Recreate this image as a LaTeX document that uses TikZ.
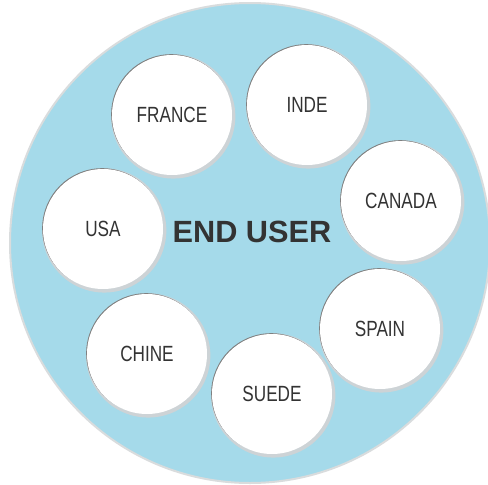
\documentclass[tikz,border=0pt]{standalone}
\usepackage{fontspec}
\setmainfont{Liberation Sans}
\newfontfamily\narrowfont[FakeStretch=0.78]{Liberation Sans}
\usetikzlibrary{shadows}
\definecolor{bigblue}{HTML}{A5DAEA}
\definecolor{rimgray}{HTML}{D9DCDD}
\definecolor{smallrim}{HTML}{CDD3D6}
\definecolor{txtgray}{HTML}{333333}
\tikzset{
  country/.style={circle, minimum size=120pt, inner sep=0pt, fill=white,
    drop shadow={shadow xshift=1.2pt, shadow yshift=-1.4pt, shadow scale=1.035, fill=smallrim, opacity=1},
    drop shadow={shadow xshift=-0.8pt, shadow yshift=0.8pt, fill=black!50, opacity=1},
    font=\narrowfont\fontsize{22}{24}\selectfont, text=txtgray},
  hub/.style={font=\bfseries\fontsize{30.7}{32}\selectfont, text=txtgray, inner sep=0pt}
}
\begin{document}
\begin{tikzpicture}[x=1pt,y=-1pt]
  \useasboundingbox (0,0) rectangle (488,485);
  \fill[white] (0,0) rectangle (488,485);
  \begin{scope}
    \clip (0,0) rectangle (488,485);
    \node[circle, minimum size=480pt, inner sep=0pt, fill=bigblue, draw=rimgray, line width=2pt] (big) at (250,243) {};
  \end{scope}
  \node[hub] (enduser) at (252,232) {END USER};
  \node[country] (france) at (172,115) {FRANCE};
  \node[country] (inde) at (307,105) {INDE};
  \node[country] (canada) at (401,201) {CANADA};
  \node[country] (usa) at (103,229) {USA};
  \node[country] (spain) at (380,329) {SPAIN};
  \node[country] (chine) at (147,354) {CHINE};
  \node[country] (suede) at (272,394) {SUEDE};
\end{tikzpicture}
\end{document}
